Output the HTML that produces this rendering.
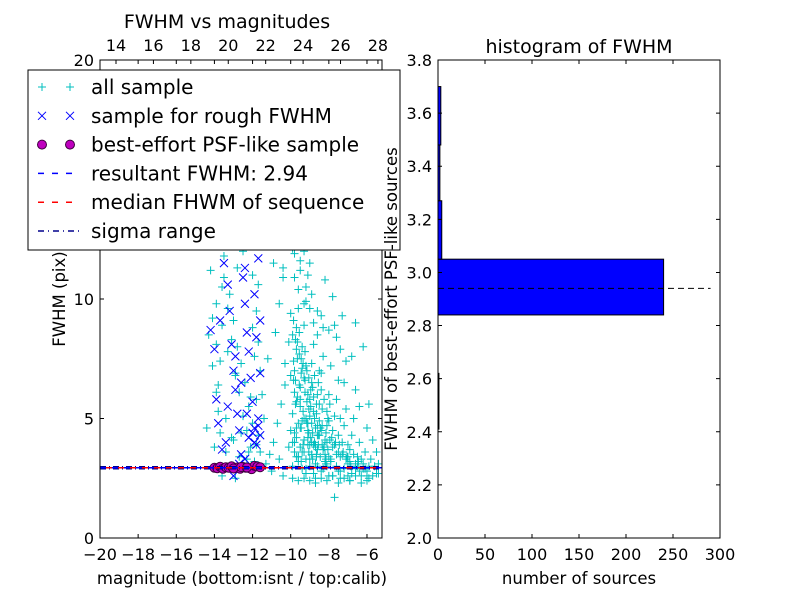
<!DOCTYPE html>
<html><head><meta charset="utf-8"><style>
html,body{margin:0;padding:0;background:#fff}
svg{display:block;font-family:"DejaVu Sans","Liberation Sans",sans-serif}
</style></head><body>
<svg id="c" width="800" height="600" viewBox="0 0 800 600"></svg>
<script>
const allX=[-14.3,-14.1,-13.9,-13.8,-13.7,-13.9,-13.6,-13.5,-13.2,-13.0,-12.8,-12.6,-12.4,-12.2,-12.0,-11.8,-13.4,-13.1,-12.7,-12.3,-11.9,-11.6,-14.0,-13.8,-12.5,-12.0,-11.8,-11.7,-11.6,-11.5,-13.3,-12.9,-12.1,-14.4,-13.6,-12.9,-11.7,
-11.3,-11.1,-10.9,-10.7,-10.5,-10.3,-11.2,-10.8,-10.6,-10.4,-10.2,-10.9,-11.0,-10.6,-10.4,-10.1,-10.0,-10.3,-10.1,-10.0,-10.5,-11.4,-11.4,
-9.9,-9.8,-9.8,-9.7,-9.7,-9.6,-9.6,-9.5,-9.9,-9.8,-9.7,-9.6,-9.5,-9.5,-9.4,-9.4,-9.3,-9.3,-9.2,-9.2,-9.1,-9.1,-9.0,-9.0,-8.9,-8.9,-8.8,-8.8,-8.7,-8.7,-8.6,-8.6,-8.5,-8.5,-8.4,-8.4,-8.3,-8.3,-8.2,-8.2,-8.1,-8.1,-8.0,-8.0,-9.4,-9.6,-9.0,-8.9,-9.3,-9.2,-8.7,-8.8,-9.1,-9.3,-8.6,-8.5,-9.7,-10.0,-9.9,-9.2,-9.0,-8.6,-8.4,-9.5,-9.0,-8.8,-9.5,-9.8,
-7.9,-7.8,-7.8,-7.7,-7.6,-7.5,-7.5,-7.4,-7.3,-7.2,-7.1,-7.0,-7.0,-6.9,-6.8,-6.7,-6.6,-6.5,-6.4,-6.2,-6.1,-6.0,-5.8,-5.6,-5.5,-7.9,-7.6,-7.2,-6.8,-6.4,-6.0,-5.7,-7.3,-6.6,-7.8,-8.2,-6.2,-5.9,-7.4,-6.9,-6.3,-5.9,-5.4,-7.7,-8.1,-7.6,-7.0,-7.5,-8.0,-7.4,-6.6,-5.5,
-9.85,-9.75,-9.65,-9.55,-9.45,-9.35,-9.25,-9.15,-9.05,-8.95,-8.85,-8.75,-8.65,-8.55,-8.45,-8.35,-8.25,-8.15,-8.05,-7.95,
-9.85,-9.75,-9.65,-9.55,-9.45,-9.35,-9.25,-9.15,-9.05,-8.95,-8.85,-8.75,-8.65,-8.55,-8.45,-8.35,-8.25,-8.15,-8.05,-7.95,
-9.8,-9.6,-9.4,-9.2,-9.0,-8.8,-8.6,-8.4,-8.2,-8.0,-7.8,-7.6,-7.4,-7.2,-7.0,-6.8,-6.6,-6.4,-6.2,-6.0,
-9.7,-9.5,-9.3,-9.1,-8.9,-8.7,-8.5,-8.3,-8.1,-7.9,-7.7,-7.5,-7.3,-7.1,-6.9,-6.7,-6.5,-6.3,-6.1,-5.9,
-9.9,-9.6,-9.3,-9.0,-8.7,-8.4,-8.1,-7.8,-7.5,-7.2,-6.9,-6.6,-6.3,-6.0,-5.7,-5.4,
-9.8,-9.5,-9.2,-8.9,-8.6,-8.3,-8.0,-7.7,-7.4,-7.1,
-14.1,-13.9,-13.7,-13.5,-13.3,-13.1,-12.9,-12.7,-12.5,-12.3,-12.1,-11.9,-11.7,-13.8,-13.4,-13.0,-12.6,-12.2,-11.8,-14.2,-13.6,-12.8,-12.0,
-9.7,-9.4,-9.8,-9.3,-9.6,-9.1,-9.9,-10.2,-10.4,-9.5,
-9.75,-9.55,-9.35,-9.15,-8.95,-8.75,-8.55,-9.65,-9.45,-9.25,-9.05,-8.85,-8.65,-9.85,-9.5,-9.2,-8.9,-8.6,-9.7,-9.4,-9.1,-8.8,-9.6,-9.3,-9.0,-8.7,-8.4,-9.9,-9.45,-9.05,-8.65,-8.35,-8.15,-7.85,-7.65,-7.45,-7.25,-7.05,-6.85,-6.45];
const allY=[8.5,7.2,6.1,5.3,4.4,9.8,10.5,11.8,10.2,9.1,8.0,7.3,6.5,5.5,4.8,3.9,3.6,4.2,3.4,3.3,3.2,3.6,3.8,12.5,12.0,11.0,9.5,8.2,7.0,6.0,7.8,6.8,5.9,4.6,2.6,2.5,4.3,
3.1,3.5,4.0,4.8,5.6,6.4,7.5,8.6,9.8,10.9,12.2,11.5,2.8,3.3,2.6,3.8,4.5,7.3,8.2,9.4,13.0,12.8,5.0,
5.2,6.1,7.0,7.9,8.8,9.6,10.4,11.2,3.0,3.6,4.2,4.8,5.5,6.3,7.1,8.0,8.9,9.8,2.7,3.3,3.9,4.5,5.1,5.8,6.5,7.3,8.1,9.0,2.5,3.1,3.7,4.3,4.9,5.6,6.2,6.9,7.6,2.9,3.5,4.1,4.7,5.3,6.0,2.6,2.9,3.4,3.0,3.5,4.1,5.0,4.6,5.3,6.0,6.7,6.0,7.0,5.7,6.8,8.5,10.5,9.6,8.5,9.3,12.3,11.5,3.9,3.8,4.4,
3.2,3.8,4.5,5.1,5.8,6.6,2.8,3.4,4.0,4.7,5.4,2.6,3.1,3.7,4.3,5.0,2.9,3.4,4.0,3.1,3.6,2.8,3.3,3.0,2.7,7.2,8.4,6.5,7.6,5.5,4.6,4.1,9.3,9.0,10.1,10.8,8.0,5.6,2.5,2.4,2.6,2.5,3.1,1.7,3.0,3.5,3.9,4.3,4.9,5.0,6.2,3.6,
7.4,6.6,5.9,7.7,6.9,5.3,6.1,7.0,4.4,5.5,6.3,4.0,5.2,3.9,4.6,5.4,3.8,4.4,3.7,4.1,
9.1,8.3,7.5,8.6,4.6,3.9,7.8,4.8,6.7,4.2,3.3,6.8,3.5,6.5,3.4,4.7,5.8,3.3,5.0,5.6,
4.0,3.2,3.6,2.9,3.3,2.7,3.0,2.8,3.2,3.4,2.6,3.0,2.8,2.9,3.4,2.7,3.1,2.8,2.9,2.6,
3.4,4.6,5.0,4.2,4.8,3.9,4.3,3.7,4.0,3.3,3.9,3.6,3.5,3.3,3.2,3.5,3.0,3.3,2.9,3.0,
2.5,2.4,2.5,2.4,2.3,2.5,2.4,2.6,2.3,2.5,2.4,2.6,2.3,2.4,2.6,2.7,
10.9,11.6,9.9,10.2,9.5,8.8,8.7,8.9,7.9,7.4,
9.2,8.1,7.4,10.9,9.6,8.3,6.9,6.1,5.1,4.5,3.8,7.6,10.6,6.4,5.0,4.1,4.4,3.6,5.8,11.2,8.9,11.3,8.8,
12.8,13.3,11.9,12.0,13.6,11.0,12.1,13.5,11.3,14.3,
5.6,6.4,7.3,5.7,6.2,5.0,4.3,8.2,7.5,6.6,5.4,4.4,5.6,6.6,5.8,7.2,4.0,4.7,4.6,4.9,4.8,5.9,3.4,3.6,3.9,3.8,4.5,4.0,3.2,3.6,3.4,3.9,3.1,4.2,4.0,3.9,3.6,3.4,3.0,3.2];
const roughX=[-14.2,-14.0,-13.9,-13.8,-13.6,-13.5,-13.3,-13.2,-13.1,-13.0,-12.9,-12.8,-12.7,-12.6,-12.5,-12.4,-12.3,-12.2,-12.1,-12.0,-11.9,-11.8,-11.7,-11.6,-11.6,-11.7,-12.2,-12.7,-13.0,-13.4,-12.9,-12.4,-11.9,-11.8,-12.6,-13.3,-12.3,-11.6,-12.9,-13.7,-11.9,-12.0,-11.7,-12.4];
const roughY=[8.7,7.9,5.8,4.8,3.7,11.5,10.6,9.5,8.1,7.0,6.2,5.2,4.5,3.5,10.9,9.8,8.6,7.8,6.7,5.7,4.6,3.9,11.7,9.1,6.9,5.0,4.2,3.1,2.6,4.0,12.3,11.3,10.2,8.4,6.5,5.5,5.2,4.3,7.6,9.1,4.0,4.4,4.7,3.3];
const bestX=[-14.0,-13.85,-13.7,-13.55,-13.4,-13.25,-13.1,-12.95,-12.8,-12.65,-12.5,-12.35,-12.2,-12.05,-11.9,-11.75,-11.6,-13.0,-12.6,-12.3];
const bestY=[2.94,2.92,2.98,2.9,2.96,2.94,3.0,2.92,2.95,2.9,2.97,2.94,2.93,2.88,3.02,2.99,2.96,2.91,2.97,2.95];
const resultFWHM=2.94, medianFWHM=2.94, sigmaLo=2.9, sigmaHi=2.98;
const binEdges=[2.41,2.62,2.84,3.05,3.27,3.48,3.70];
const binCounts=[1,0,240,4,2,3];
const lxTicks=[-20,-18,-16,-14,-12,-10,-8,-6];
const topTicks=[14,16,18,20,22,24,26,28];
const lyTicks=[0,5,10];
const ryTicks=[2.0,2.2,2.4,2.6,2.8,3.0,3.2,3.4,3.6,3.8];
const rxTicks=[0,50,100,150,200,250,300];

const S=document.getElementById('c'),NS='http://www.w3.org/2000/svg';
function el(t,a,p){const e=document.createElementNS(NS,t);for(const k in a)e.setAttribute(k,a[k]);(p||S).appendChild(e);return e;}
function tx(x,y,s,a,extra,p){const e=el('text',Object.assign({x:x,y:y,'font-size':a||16,fill:'#000'},extra||{}),p);e.textContent=s;return e;}
const L={x0:100,x1:382,y0:538,y1:60};
const lx=v=>L.x0+(v+20)*19.07, ly=v=>L.y0-v*23.9, tpx=v=>116+(v-14)*18.71;
const R={x0:438,x1:720,y0:538,y1:60};
const rx=v=>R.x0+v*(R.x1-R.x0)/300, ry=v=>R.y0-(v-2)*(R.y0-R.y1)/1.8;

const gL=el('g',{});
const cp=el('clipPath',{id:'cl'});el('rect',{x:L.x0,y:L.y1,width:L.x1-L.x0,height:L.y0-L.y1},cp);
const gp=el('g',{'clip-path':'url(#cl)'},gL);
for(let i=0;i<allX.length;i++){const x=lx(allX[i]),y=ly(allY[i]);const p=el('path',{d:`M${x-4} ${y}H${x+4}M${x} ${y-4}V${y+4}`,stroke:'#00bfbf','stroke-width':1},gp);

}
for(let i=0;i<roughX.length;i++){const x=lx(roughX[i]),y=ly(roughY[i]);const p=el('path',{d:`M${x-4} ${y-4}L${x+4} ${y+4}M${x-4} ${y+4}L${x+4} ${y-4}`,stroke:'#0000ff','stroke-width':1},gp);

}
for(let i=0;i<bestX.length;i++){const p=el('circle',{cx:lx(bestX[i]),cy:ly(bestY[i]),r:4.5,fill:'#bf00bf',stroke:'#400040','stroke-width':1},gp);

}
[[sigmaLo,'#00008b','6,3,1,3'],[sigmaHi,'#00008b','6,3,1,3'],[resultFWHM,'#0000ff','6,6'],[medianFWHM,'#ff0000','6,6']].forEach((d,i)=>{
const ln=el('line',{x1:L.x0,x2:L.x1,y1:ly(d[0]),y2:ly(d[0]),stroke:d[1],'stroke-width':1.5,'stroke-dasharray':d[2],'stroke-dashoffset':i==3?6:0},gp);

});
el('rect',{x:L.x0,y:L.y1,width:L.x1-L.x0,height:L.y0-L.y1,fill:'none',stroke:'#000'},gL);
lxTicks.forEach(v=>{const x=lx(v);el('path',{d:`M${x} ${L.y0}v-4M${x} ${L.y1}v4`,stroke:'#000'},gL);tx(x,560,(v<0?'\u2212':'')+Math.abs(v),16,{'text-anchor':'middle'});});
topTicks.forEach(v=>{const x=tpx(v);el('path',{d:`M${x} ${L.y1}v4`,stroke:'#000'},gL);tx(x,51,String(v),16,{'text-anchor':'middle'});});
lyTicks.forEach(v=>{const y=ly(v);el('path',{d:`M${L.x0} ${y}h4M${L.x1} ${y}h-4`,stroke:'#000'},gL);tx(94,y+6,String(v),16,{'text-anchor':'end'});});
tx(94,66,'20',16,{'text-anchor':'end'});
tx(242,584,'magnitude (bottom:isnt / top:calib)',16.5,{'text-anchor':'middle'});
tx(227,28,'FWHM vs magnitudes',19,{'text-anchor':'middle'});
tx(0,0,'FWHM (pix)',16.5,{'text-anchor':'middle',transform:'translate(65,299) rotate(-90)'});
const lg=el('g',{});
el('rect',{x:28,y:70,width:372,height:180,fill:'#fff',stroke:'#000'},lg);
const labs=['all sample','sample for rough FWHM','best-effort PSF-like sample','resultant FWHM: 2.94','median FHWM of sequence','sigma range'];
labs.forEach((s,i)=>{const y=87+i*28.8;
if(i==0)[42,70].forEach(x=>el('path',{d:`M${x-4} ${y}H${x+4}M${x} ${y-4}V${y+4}`,stroke:'#00bfbf'},lg));
if(i==1)[42,70].forEach(x=>el('path',{d:`M${x-4} ${y-4}L${x+4} ${y+4}M${x-4} ${y+4}L${x+4} ${y-4}`,stroke:'#0000ff'},lg));
if(i==2)[42,70].forEach(x=>el('circle',{cx:x,cy:y,r:4.5,fill:'#bf00bf',stroke:'#400040'},lg));
if(i==3)el('line',{x1:38,x2:80,y1:y,y2:y,stroke:'#0000ff','stroke-width':1.5,'stroke-dasharray':'6,8'},lg);
if(i==4)el('line',{x1:38,x2:80,y1:y,y2:y,stroke:'#ff0000','stroke-width':1.5,'stroke-dasharray':'6,8'},lg);
if(i==5)el('line',{x1:38,x2:80,y1:y,y2:y,stroke:'#00008b','stroke-width':1.5,'stroke-dasharray':'6,4,1,4'},lg);
tx(91,y+7,s,20,{},lg);});
const gR=el('g',{});
for(let i=0;i<binCounts.length;i++){if(!binCounts[i])continue;const y0=ry(binEdges[i+1]),y1=ry(binEdges[i]);
const b=el('rect',{x:R.x0,y:y0,width:rx(binCounts[i])-R.x0,height:y1-y0,fill:'#0000ff',stroke:'#000','stroke-width':1},gR);

}
const dl=el('line',{x1:R.x0,x2:rx(290),y1:ry(resultFWHM),y2:ry(resultFWHM),stroke:'#000','stroke-dasharray':'6,4'},gR);


el('rect',{x:R.x0,y:R.y1,width:R.x1-R.x0,height:R.y0-R.y1,fill:'none',stroke:'#000'},gR);
rxTicks.forEach(v=>{const x=rx(v);el('path',{d:`M${x} ${R.y0}v-4M${x} ${R.y1}v4`,stroke:'#000'},gR);tx(x,560,String(v),16,{'text-anchor':'middle'});});
ryTicks.forEach(v=>{const y=ry(v);el('path',{d:`M${R.x0} ${y}h4M${R.x1} ${y}h-4`,stroke:'#000'},gR);tx(432,y+6,v.toFixed(1),16,{'text-anchor':'end'});});
tx(579,584,'number of sources',16.5,{'text-anchor':'middle'});
tx(579,53,'histogram of FWHM',19,{'text-anchor':'middle'});
tx(0,0,'FWHM of best-effort PSF-like sources',16.5,{'text-anchor':'middle',transform:'translate(397,299) rotate(-90)'});
</script>
</body></html>
